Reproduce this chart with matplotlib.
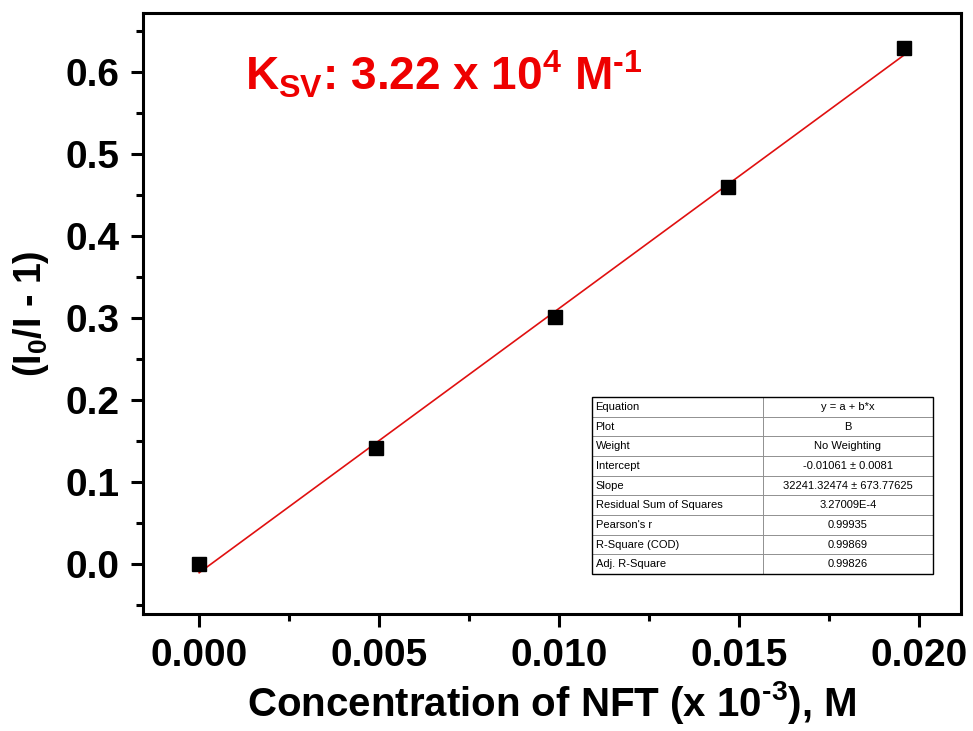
import matplotlib
matplotlib.use("Agg")
import matplotlib.pyplot as plt
import numpy as np
import matplotlib.patches as mpatches
from matplotlib.ticker import MultipleLocator, FormatStrFormatter

plt.rcParams['font.family'] = ['Liberation Sans', 'DejaVu Sans']
plt.rcParams['mathtext.fontset'] = 'custom'
plt.rcParams['mathtext.rm'] = 'Liberation Sans:bold'
plt.rcParams['mathtext.bf'] = 'Liberation Sans:bold'
plt.rcParams['mathtext.it'] = 'Liberation Sans:bold'

# data
conc = [0.0, 0.00492, 0.00990, 0.01470, 0.01958]
ratio = [0.0, 0.141, 0.301, 0.460, 0.629]
intercept = -0.01061
slope = 32.24132474  # per axis unit (x 10^-3)

table_labels = ["Equation", "Plot", "Weight", "Intercept", "Slope",
                "Residual Sum of Squares", "Pearson's r", "R-Square (COD)",
                "Adj. R-Square"]
table_values = ["y = a + b*x", "B", "No Weighting", "-0.01061 \u00b1 0.0081",
                "32241.32474 \u00b1 673.77625", "3.27009E-4", "0.99935",
                "0.99869", "0.99826"]

fig = plt.figure(figsize=(9.73, 7.31), dpi=100)
ax = fig.add_axes([0.147, 0.160, 0.8407, 0.822])

xfit = np.array([conc[0], conc[-1]])
ax.plot(xfit, intercept + slope * xfit, color='#e01010', lw=1.2, zorder=2)
ax.plot(conc, ratio, 's', color='black', markersize=9.4, zorder=3)

ax.set_xlim(-0.00156, 0.02117)
ax.set_ylim(-0.061, 0.672)
ax.xaxis.set_major_locator(MultipleLocator(0.005))
ax.xaxis.set_minor_locator(MultipleLocator(0.0025))
ax.yaxis.set_major_locator(MultipleLocator(0.1))
ax.yaxis.set_minor_locator(MultipleLocator(0.05))
ax.xaxis.set_major_formatter(FormatStrFormatter('%.3f'))
ax.yaxis.set_major_formatter(FormatStrFormatter('%.1f'))

for s in ax.spines.values():
    s.set_linewidth(2.2)
ax.tick_params(which='major', direction='out', length=9, width=2.2, pad=8)
ax.tick_params(which='minor', direction='out', length=5, width=2.2)
for lab in ax.get_xticklabels() + ax.get_yticklabels():
    lab.set_fontsize(28)
    lab.set_fontweight('bold')

ax.set_xlabel(r"Concentration of NFT (x 10$^{\text{-3}}$), M", fontsize=29,
              fontweight='bold', labelpad=4)
ax.set_ylabel(r"(I$_{0}$/I - 1)", fontsize=27, fontweight='bold', labelpad=10)

ax.text(0.125, 0.872, r"K$_{\mathrm{SV}}$: 3.22 x 10$^{4}$ M$^{\text{-1}}$",
        transform=ax.transAxes, color='#ee0000', fontsize=33,
        fontweight='bold', va='baseline', ha='left')

cell_text = [[a, b] for a, b in zip(table_labels, table_values)]
tbl = ax.table(cellText=cell_text, cellLoc='center',
               bbox=[0.549, 0.0666, 0.417, 0.2944], zorder=4)
tbl.auto_set_font_size(False)
tbl.set_fontsize(8)
for (r, c), cell in tbl.get_celld().items():
    cell.set_edgecolor('#888888')
    cell.set_linewidth(0.6)
    cell.set_facecolor('white')
    if c == 0:
        cell.get_text().set_ha('left')
        cell.PAD = 0.02
ax.add_patch(mpatches.Rectangle((0.549, 0.0666), 0.417, 0.2944,
                                transform=ax.transAxes, fill=False,
                                edgecolor='black', lw=1.0, zorder=5))

fig.savefig("out.png", dpi=100)
